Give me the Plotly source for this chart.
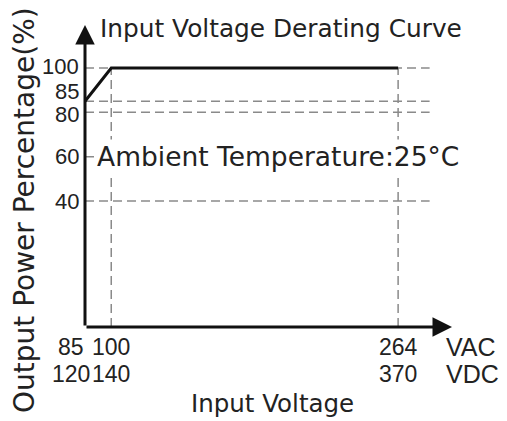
import plotly.graph_objects as go

# ---- data ----
curve_vac = [85, 100, 264]
curve_pct = [85, 100, 100]
y_ticks = [100, 85, 80, 60, 40]
y_tick_labels = ["100", "85", "80", "60", "40"]
x_ticks_vac = [85, 100, 264]
x_ticks_vdc = [120, 140, 370]
unit_labels = ["VAC", "VDC"]
title_text = "Input Voltage Derating Curve"
note_text = "Ambient Temperature:25\u00b0C"
x_title = "Input Voltage"
y_title = "Output Power Percentage(%)"

TFONT = "DejaVu Sans"
DFONT = "Liberation Sans"
TXT = "#222222"
GRID = "#8a8a8a"

X0, X1 = 85, 294.8
Y0, Y1 = -16.8, 119.4
GRID_END = 282

fig = go.Figure()

# dashed horizontal guide lines at each percentage tick
for v in y_ticks:
    fig.add_trace(go.Scatter(x=[X0, GRID_END], y=[v, v], mode="lines",
                             line=dict(color=GRID, width=1.5, dash="9px,5px"),
                             hoverinfo="skip", showlegend=False))
# dashed vertical guide lines at the curve's break points
for xv, yv in zip(curve_vac[1:], curve_pct[1:]):
    fig.add_trace(go.Scatter(x=[xv, xv], y=[Y0, yv], mode="lines",
                             line=dict(color=GRID, width=1.5, dash="9px,5px"),
                             hoverinfo="skip", showlegend=False))

# derating curve
fig.add_trace(go.Scatter(x=curve_vac, y=curve_pct, mode="lines",
                         line=dict(color="#111111", width=3),
                         hoverinfo="skip", showlegend=False))

ann = []
# axis arrows
for (x, y) in [(0, 1), (1, 0)]:
    ann.append(dict(xref="x domain", yref="y domain", axref="x domain",
                    ayref="y domain", x=x, y=y, ax=0, ay=0, showarrow=True,
                    arrowhead=2, arrowsize=1.3, arrowwidth=3,
                    arrowcolor="#111111", text="", standoff=0,
                    startstandoff=0))

# x tick labels (VAC row over VDC row)
shifts = [-14, 0, 0]
for row, (vals, ysh) in enumerate([(x_ticks_vac, -20), (x_ticks_vdc, -47)]):
    for xv, xa, sh in zip(vals, x_ticks_vac, shifts):
        ann.append(dict(xref="x", yref="paper", x=xa, y=0, yanchor="middle",
                        xanchor="center", yshift=ysh, xshift=sh,
                        text=str(xv), showarrow=False,
                        font=dict(family=DFONT, size=23, color=TXT)))
    ann.append(dict(xref="paper", yref="paper", x=1, y=0, yanchor="middle",
                    xanchor="left", yshift=ysh, xshift=-8,
                    text=unit_labels[row], showarrow=False,
                    font=dict(family=DFONT, size=25, color=TXT)))

# y tick labels
yshifts = {100: 2, 85: 10, 80: -2}
for v, t in zip(y_ticks, y_tick_labels):
    ann.append(dict(xref="paper", yref="y", x=0, y=v, xanchor="right",
                    yanchor="middle", xshift=-4, yshift=yshifts.get(v, 0),
                    text=t, showarrow=False,
                    font=dict(family=DFONT, size=22, color=TXT)))

# title, note, axis titles
ann.append(dict(xref="paper", yref="paper", x=0, y=1, xanchor="left",
                yanchor="middle", xshift=13, yshift=-3, text=title_text,
                showarrow=False, font=dict(family=TFONT, size=24.8, color=TXT)))
ann.append(dict(xref="paper", yref="y", x=0, y=60, xanchor="left",
                yanchor="middle", xshift=10, text=note_text, showarrow=False,
                bgcolor="white",
                font=dict(family=TFONT, size=26.5, color=TXT)))
ann.append(dict(xref="paper", yref="paper", x=0.5, y=0, xanchor="center",
                yanchor="top", xshift=4, yshift=-60, text=x_title,
                showarrow=False, font=dict(family=TFONT, size=24.5, color=TXT)))
ann.append(dict(xref="paper", yref="paper", x=0, y=0.5, xanchor="center",
                yanchor="middle", xshift=-61, yshift=-34, textangle=-90,
                text=y_title, showarrow=False,
                font=dict(family=TFONT, size=28, color=TXT)))

# page body has an 8px margin, so the figure is shifted by 8px
fig.update_layout(
    width=499, height=413,
    margin=dict(l=77, r=55, t=17, b=94),
    paper_bgcolor="white", plot_bgcolor="white",
    xaxis=dict(range=[X0, X1], showgrid=False, zeroline=False,
               showticklabels=False, showline=False, fixedrange=True),
    yaxis=dict(range=[Y0, Y1], showgrid=False, zeroline=False,
               showticklabels=False, showline=False, fixedrange=True),
    annotations=ann,
)

fig.write_html("out.html")
